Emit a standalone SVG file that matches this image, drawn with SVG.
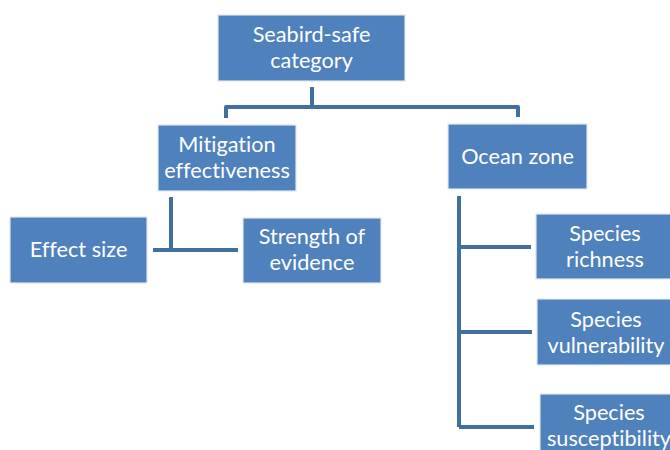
<svg xmlns="http://www.w3.org/2000/svg" width="670" height="450" viewBox="0 0 670 450">
<style>
.box{fill:#4f81bd;stroke:#dfe8f3;stroke-width:1.2}
.t{font-family:Lato,"Open Sans","Liberation Sans",sans-serif;font-size:21.7px;fill:#ffffff;text-anchor:middle;font-variant-ligatures:none;font-feature-settings:"liga" 0,"dlig" 0}
.c{fill:none;stroke:#41709f;stroke-width:4;stroke-linejoin:round}
</style>
<rect width="670" height="450" fill="#ffffff"/>
<g id="connectors">
<path class="c" d="M312,87 V107 M226,118 V107 H518 V117"/>
<path class="c" d="M171,197 V250 M153,250 H238"/>
<path class="c" d="M459,196 V427 M459,247 H531 M459,332 H532 M459,427 H534"/>
</g>
<g id="n-seabird"><rect class="box" x="218" y="15" width="187" height="66"/><text class="t" x="311.5" y="42">Seabird-safe</text><text class="t" x="311.5" y="68">category</text></g>
<g id="n-mitigation"><rect class="box" x="158" y="125" width="138" height="66"/><text class="t" x="227" y="152">Mitigation</text><text class="t" x="227" y="178">effectiveness</text></g>
<g id="n-ocean"><rect class="box" x="448" y="124" width="139" height="65"/><text class="t" x="517.5" y="164">Ocean zone</text></g>
<g id="n-effect"><rect class="box" x="10" y="217" width="137" height="66"/><text class="t" x="78.5" y="257">Effect size</text></g>
<g id="n-strength"><rect class="box" x="243" y="218" width="138" height="65"/><text class="t" x="312" y="244">Strength of</text><text class="t" x="312" y="270">evidence</text></g>
<g id="n-richness"><rect class="box" x="536" y="214" width="138" height="65"/><text class="t" x="605" y="241">Species</text><text class="t" x="605" y="267">richness</text></g>
<g id="n-vulnerability"><rect class="box" x="537" y="299" width="138" height="66"/><text class="t" x="606" y="327">Species</text><text class="t" x="606" y="353">vulnerability</text></g>
<g id="n-susceptibility"><rect class="box" x="540" y="394" width="138" height="66"/><text class="t" x="609" y="420">Species</text><text class="t" x="609" y="446">susceptibility</text></g>
</svg>
